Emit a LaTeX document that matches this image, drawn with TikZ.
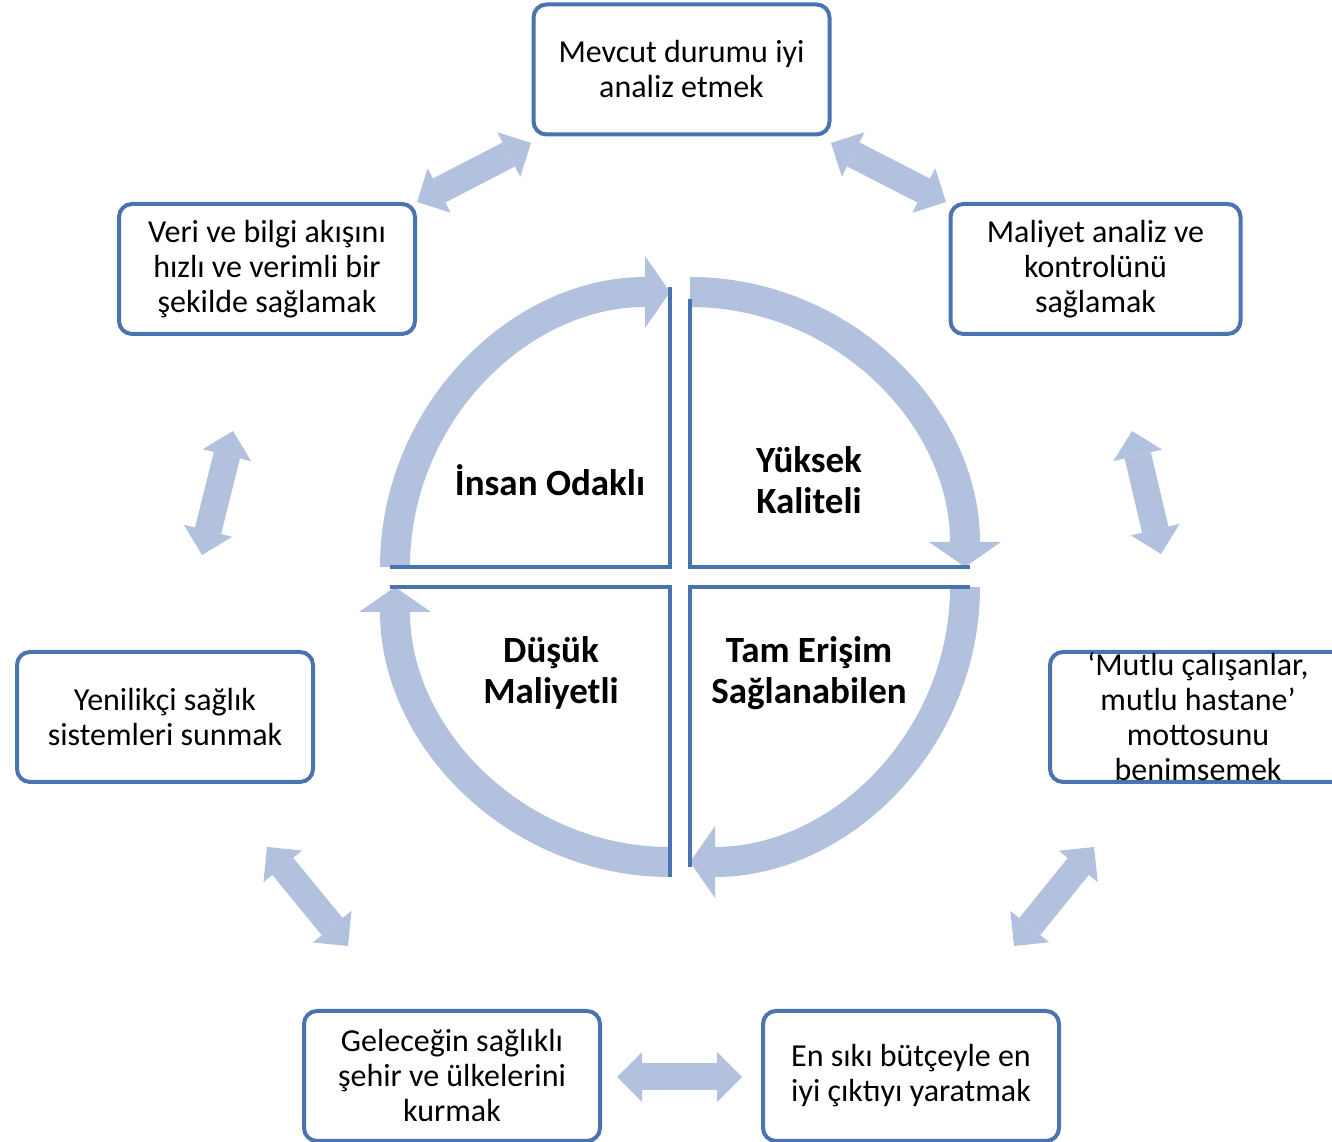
\documentclass[tikz,border=0pt]{standalone}
\usepackage{fontspec}
\setmainfont{Carlito}
\usetikzlibrary{positioning,arrows.meta}
\definecolor{boxblue}{RGB}{74,116,175}
\definecolor{ringblue}{RGB}{178,194,222}

\begin{document}
\begin{tikzpicture}[x=1pt,y=1pt,on grid,
    box/.style={draw=boxblue,line width=4pt,rounded corners=13pt,fill=white,minimum width=296pt,minimum height=130pt,inner sep=0pt,align=center,font=\fontsize{32}{35}\selectfont},
    lbl/.style={align=center,font=\fontsize{37}{41}\selectfont\bfseries},
    link/.style={color=ringblue,line width=27pt,{Triangle[length=25pt,width=50pt,line width=0pt]}-{Triangle[length=25pt,width=50pt,line width=0pt]}},
    ring/.style={color=ringblue,line width=30pt,-{Triangle[length=25pt,width=72pt,line width=0pt]}},
    quad/.style={draw=boxblue,line width=4.5pt}]
  \useasboundingbox (0,0) rectangle (1332,1142);
  \clip (0,0) rectangle (1332,1142);

  \node[box] (b_0) at (681.5,1072.5) {Mevcut durumu iyi\\analiz etmek};
  \node[box,minimum width=290pt] (b_1) [below right=199.5pt and 414pt of b_0] {Maliyet analiz ve\\kontrolünü\\sağlamak};
  \node[box] (b_2) [below left=199.5pt and 414.5pt of b_0] {Veri ve bilgi akışını\\hızlı ve verimli bir\\şekilde sağlamak};
  \node[box] (b_3) [below left=647.5pt and 516.5pt of b_0] {Yenilikçi sağlık\\sistemleri sunmak};
  \node[box,inner ysep=-8pt] (b_4) [below right=647.5pt and 516.5pt of b_0] {‘Mutlu çalışanlar,\\mutlu hastane’\\mottosunu\\benimsemek};
  \node[box] (b_5) [below left=1006.5pt and 229.5pt of b_0] {Geleceğin sağlıklı\\şehir ve ülkelerini\\kurmak};
  \node[box] (b_6) [below right=1006.5pt and 229.5pt of b_0] {En sıkı bütçeyle en\\iyi çıktıyı yaratmak};

  \coordinate (a_1) at (417,940);  \coordinate (a_2) at (531,999);
  \coordinate (a_3) at (831,999);  \coordinate (a_4) at (946,940);
  \coordinate (a_5) at (233,711);  \coordinate (a_6) at (202,587);
  \coordinate (a_7) at (1132,711); \coordinate (a_8) at (1161,588);
  \coordinate (a_9) at (267,295);  \coordinate (a_10) at (348,196);
  \coordinate (a_11) at (1094,295); \coordinate (a_12) at (1014,196);
  \coordinate (a_13) at (617,65);  \coordinate (a_14) at (742,65);
  \path
    (a_1) edge[link] (a_2)
    (a_3) edge[link] (a_4)
    (a_5) edge[link] (a_6)
    (a_7) edge[link] (a_8)
    (a_9) edge[link] (a_10)
    (a_11) edge[link] (a_12)
    (a_13) edge[link] (a_14);

  \coordinate (c_1) at (670,575);
  \coordinate (c_2) at (690,575);
  \coordinate (c_3) at (690,555);
  \coordinate (c_4) at (670,555);
  \draw[ring] ([xshift=-275pt]c_1) arc[start angle=180,end angle=90,radius=275pt];
  \draw[ring] ([yshift=275pt]c_2) arc[start angle=90,end angle=0,radius=275pt];
  \draw[ring] ([xshift=275pt]c_3) arc[start angle=0,end angle=-90,radius=275pt];
  \draw[ring] ([yshift=-275pt]c_4) arc[start angle=270,end angle=180,radius=275pt];
  \draw[quad] ([yshift=280pt]c_1) -- (c_1) -- ([xshift=-280pt]c_1);
  \draw[quad] ([yshift=268pt]c_2) -- (c_2) -- ([xshift=280pt]c_2);
  \draw[quad] ([yshift=-280pt]c_3) -- (c_3) -- ([xshift=280pt]c_3);
  \draw[quad] ([yshift=-290pt]c_4) -- (c_4) -- ([xshift=-280pt]c_4);

  \node[lbl] (q_1) at (550,662) {İnsan Odaklı};
  \node[lbl] (q_2) at (809,662) {Yüksek\\Kaliteli};
  \node[lbl] (q_3) at (809,469) {Tam Erişim\\Sağlanabilen};
  \node[lbl] (q_4) at (551,469) {Düşük\\Maliyetli};
\end{tikzpicture}
\end{document}
